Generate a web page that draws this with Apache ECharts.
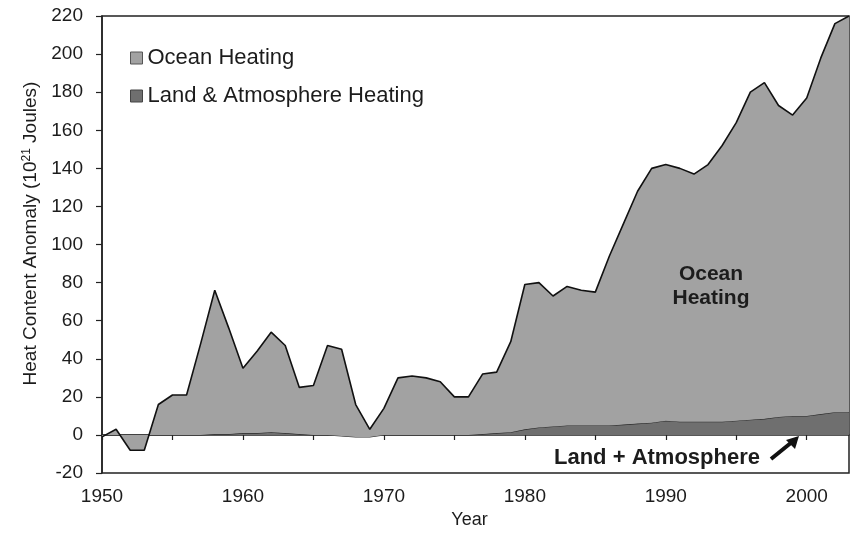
<!DOCTYPE html>
<html>
<head>
<meta charset="utf-8">
<title>Heat Content Anomaly</title>
<script src="https://cdn.jsdelivr.net/npm/echarts@6/dist/echarts.min.js"></script>
<style>
  html, body { margin: 0; padding: 0; background: #ffffff; }
  #chart { width: 852px; height: 534px; }
</style>
</head>
<body>
<div id="chart"></div>
<script>
// Years of the record
const years = [
  1950, 1951, 1952, 1953, 1954, 1955, 1956, 1957, 1958, 1959,
  1960, 1961, 1962, 1963, 1964, 1965, 1966, 1967, 1968, 1969,
  1970, 1971, 1972, 1973, 1974, 1975, 1976, 1977, 1978, 1979,
  1980, 1981, 1982, 1983, 1984, 1985, 1986, 1987, 1988, 1989,
  1990, 1991, 1992, 1993, 1994, 1995, 1996, 1997, 1998, 1999,
  2000, 2001, 2002, 2003
];

// Land & atmosphere heating (10^21 J), bottom layer of the stack
const landAtmosphere = [
  0, 0, 0, 0, 0, 0, 0, 0, 0.5, 0.5,
  1, 1, 1.5, 1, 0.5, 0, 0, -0.5, -1, -1,
  0, 0, 0, 0, 0, 0, 0, 0.5, 1, 1.5,
  3, 4, 4.5, 5, 5, 5, 5, 5.5, 6, 6.5,
  7.5, 7, 7, 7, 7, 7.5, 8, 8.5, 9.5, 10,
  10, 11, 12, 12
];

// Ocean heating (10^21 J), stacked on top of land & atmosphere
const oceanHeating = [
  -1, 3, -8, -8, 16, 21, 21, 48, 75.5, 55.5,
  34, 43, 52.5, 46, 24.5, 26, 47, 45.5, 17, 4,
  14, 30, 31, 30, 28, 20, 20, 31.5, 32, 47.5,
  76, 76, 68.5, 73, 71, 70, 89, 105.5, 122, 133.5,
  134.5, 133, 130, 135, 145, 156.5, 172, 176.5, 163.5, 158,
  167, 187, 204, 208
];

const yTicks = { min: -20, max: 220, step: 20 };
// tick every 5 years, label every 10 years (as category index intervals)
const xTickEvery = 5;
const xLabelEvery = 10;

const FONT = "'Liberation Sans', Arial, sans-serif";
const INK = '#1c1c1c';
const OCEAN_FILL = '#a2a2a2';
const LAND_FILL = '#6f6f6f';

const chart = echarts.init(document.getElementById('chart'), null, { renderer: 'canvas' });

chart.setOption({
  backgroundColor: '#ffffff',
  animation: false,
  textStyle: { fontFamily: FONT, color: INK },
  grid: {
    left: 102, right: 3, top: 16, bottom: 54,
    show: true, borderColor: '#222', borderWidth: 1.5,
    backgroundColor: 'transparent'
  },
  legend: {
    orient: 'vertical',
    left: 125, top: 42,
    itemWidth: 12, itemHeight: 12,
    itemGap: 16,
    icon: 'rect',
    textStyle: { fontFamily: FONT, fontSize: 22, color: INK },
    data: [
      { name: 'Ocean Heating', itemStyle: { color: OCEAN_FILL, borderColor: '#555', borderWidth: 1 } },
      { name: 'Land & Atmosphere Heating', itemStyle: { color: LAND_FILL, borderColor: '#444', borderWidth: 1 } }
    ]
  },
  xAxis: {
    type: 'category',
    data: years.map(String),
    boundaryGap: false,
    name: 'Year',
    nameLocation: 'middle',
    nameGap: 33,
    nameTextStyle: { fontFamily: FONT, fontSize: 18, color: INK, padding: [0, 12, 0, 0] },
    axisLine: { lineStyle: { color: '#222', width: 1.5 } },
    axisTick: { length: 5, interval: xTickEvery - 1, lineStyle: { color: '#222', width: 1.2 } },
    splitLine: { show: false },
    axisLabel: {
      fontFamily: FONT, fontSize: 19, color: INK, margin: 14,
      interval: xLabelEvery - 1
    }
  },
  yAxis: {
    type: 'value',
    min: yTicks.min, max: yTicks.max, interval: yTicks.step,
    name: '{t|Heat Content Anomaly (10}{s|21}{t| Joules)}',
    nameLocation: 'middle',
    nameRotate: 90,
    nameGap: 55,
    nameTextStyle: {
      padding: [0, 0, 0, 22],
      rich: {
        t: { fontFamily: FONT, fontSize: 19, color: INK, lineHeight: 21 },
        s: { fontFamily: FONT, fontSize: 12, color: INK, lineHeight: 12, verticalAlign: 'top' }
      }
    },
    axisLine: { show: true, lineStyle: { color: '#222', width: 1.5 } },
    axisTick: { show: true, length: 6, lineStyle: { color: '#222', width: 1.2 } },
    splitLine: { show: false },
    axisLabel: { fontFamily: FONT, fontSize: 19, color: INK, margin: 19 }
  },
  series: [
    {
      name: 'Land & Atmosphere Heating',
      type: 'line',
      stack: 'heat',
      stackStrategy: 'all',
      showSymbol: false,
      data: landAtmosphere,
      lineStyle: { color: '#2a2a2a', width: 1.2 },
      itemStyle: { color: LAND_FILL },
      areaStyle: { color: LAND_FILL, opacity: 1 },
      z: 2
    },
    {
      name: 'Ocean Heating',
      type: 'line',
      stack: 'heat',
      stackStrategy: 'all',
      showSymbol: false,
      data: oceanHeating,
      lineStyle: { color: '#111', width: 1.6 },
      itemStyle: { color: OCEAN_FILL },
      areaStyle: { color: OCEAN_FILL, opacity: 1 },
      z: 3
    }
  ],
  graphic: [
    {
      type: 'text',
      style: {
        text: 'Ocean\nHeating', x: 711, y: 286,
        font: 'bold 21px ' + FONT, fill: INK,
        align: 'center', verticalAlign: 'middle', lineHeight: 24
      },
      z: 10
    },
    {
      type: 'text',
      style: {
        text: 'Land + Atmosphere', x: 657, y: 458,
        font: 'bold 22px ' + FONT, fill: INK,
        align: 'center', verticalAlign: 'middle'
      },
      z: 10
    },
    {
      type: 'line',
      shape: { x1: 771, y1: 459, x2: 792, y2: 442 },
      style: { stroke: '#111', lineWidth: 4, lineCap: 'butt' },
      z: 10
    },
    {
      type: 'polygon',
      shape: { points: [[799, 436], [786, 440], [795, 449]] },
      style: { fill: '#111' },
      z: 10
    }
  ]
});
</script>
</body>
</html>
